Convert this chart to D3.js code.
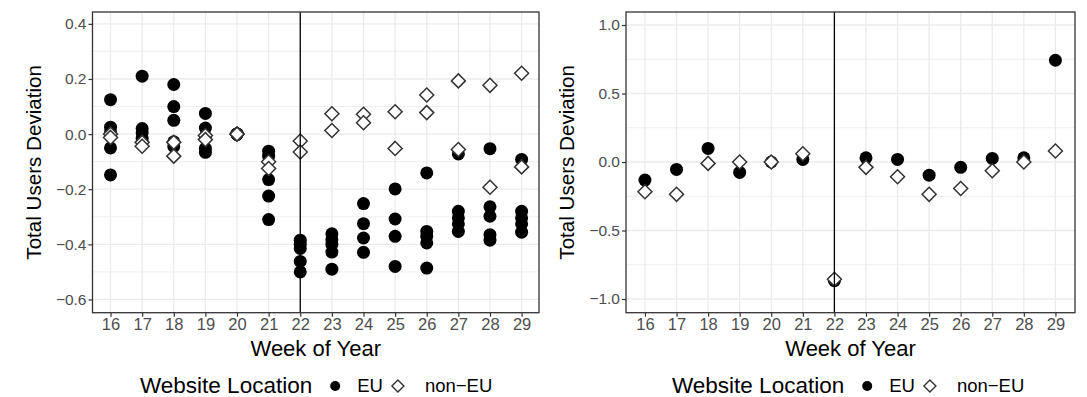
<!DOCTYPE html>
<html>
<head>
<meta charset="utf-8">
<script src="https://cdn.jsdelivr.net/npm/d3@7"></script>
<style>
  body { margin: 0; background: #fff; }
  svg { display: block; }
</style>
</head>
<body>
<div id="chart"></div>
<script>
var weeks = [16, 17, 18, 19, 20, 21, 22, 23, 24, 25, 26, 27, 28, 29];

// left panel: several websites per week
var leftEU = [
  [0.125, 0.025, 0.008, -0.05, -0.148],
  [0.21, 0.02, 0.005, -0.015, -0.03],
  [0.18, 0.1, 0.05, -0.028, -0.045],
  [0.075, 0.022, -0.01, -0.052, -0.066],
  [0, 0, 0, 0, 0],
  [-0.062, -0.08, -0.165, -0.225, -0.31],
  [-0.385, -0.4, -0.415, -0.462, -0.5],
  [-0.362, -0.383, -0.4, -0.428, -0.49],
  [-0.252, -0.325, -0.377, -0.429],
  [-0.199, -0.308, -0.371, -0.48],
  [-0.141, -0.353, -0.371, -0.395, -0.486],
  [-0.072, -0.28, -0.304, -0.326, -0.353],
  [-0.053, -0.264, -0.298, -0.365, -0.385],
  [-0.092, -0.28, -0.304, -0.326, -0.356]
];
var leftNonEU = [
  [0.0, -0.012],
  [-0.03, -0.044],
  [-0.03, -0.08],
  [-0.005, -0.02],
  [0, 0],
  [-0.1, -0.125],
  [-0.025, -0.065],
  [0.074, 0.013],
  [0.072, 0.041],
  [0.081, -0.052],
  [0.142, 0.078],
  [0.193, -0.056],
  [0.177, -0.193],
  [0.221, -0.119]
];

// right panel: one value per week
var rightEU = [-0.132, -0.054, 0.099, -0.076, 0, 0.019, -0.866, 0.031, 0.019, -0.096, -0.039, 0.026, 0.031, 0.743];
var rightNonEU = [-0.217, -0.236, -0.01, 0.0, 0.0, 0.06, -0.856, -0.039, -0.108, -0.236, -0.193, -0.064, 0.0, 0.08];

var leftTicks = [-0.6, -0.4, -0.2, 0.0, 0.2, 0.4];
var rightTicks = [-1.0, -0.5, 0.0, 0.5, 1.0];
var markerWeek = 22;

var width = 1087,
    height = 397;

var gridColor = '#ebebeb',
    borderColor = '#333333',
    tickTextColor = '#4d4d4d';

var fontFamily = '"Liberation Sans", Arial, Helvetica, sans-serif';

var svg = d3.select('#chart')
  .append('svg')
  .attr('width', width)
  .attr('height', height);

function flatten(weekVals) {
  var out = [];
  weekVals.forEach(function(vals, i) {
    [].concat(vals).forEach(function(v) {
      out.push({ week: weeks[i], value: v });
    });
  });
  return out;
}

function diamondPath(r) {
  return 'M0,' + (-r) + 'L' + r + ',0L0,' + r + 'L' + (-r) + ',0Z';
}

function drawPanel(p) {
  var x = d3.scaleLinear().domain(p.xDomain).range([p.left, p.right]);
  var y = d3.scaleLinear().domain(p.yDomain).range([p.bottom, p.top]);

  var g = svg.append('g');

  // minor grid (y midpoints)
  var step = p.yTicks[1] - p.yTicks[0];
  var minor = [];
  for (var i = 0; i < p.yTicks.length + 1; i++) {
    var v = p.yTicks[0] - step / 2 + i * step;
    if (v > p.yDomain[0] && v < p.yDomain[1]) minor.push(v);
  }
  g.selectAll('.minor')
    .data(minor)
    .enter().append('line')
    .attr('x1', p.left).attr('x2', p.right)
    .attr('y1', function(d) { return y(d); })
    .attr('y2', function(d) { return y(d); })
    .style('stroke', gridColor)
    .style('stroke-width', 0.8);

  // major grid
  g.selectAll('.hgrid')
    .data(p.yTicks)
    .enter().append('line')
    .attr('x1', p.left).attr('x2', p.right)
    .attr('y1', function(d) { return y(d); })
    .attr('y2', function(d) { return y(d); })
    .style('stroke', gridColor)
    .style('stroke-width', 1.3);

  g.selectAll('.vgrid')
    .data(weeks)
    .enter().append('line')
    .attr('y1', p.top).attr('y2', p.bottom)
    .attr('x1', function(d) { return x(d); })
    .attr('x2', function(d) { return x(d); })
    .style('stroke', gridColor)
    .style('stroke-width', 1.3);

  // points: EU dots first, then non-EU diamonds on top
  g.selectAll('.eu')
    .data(flatten(p.eu))
    .enter().append('circle')
    .attr('cx', function(d) { return x(d.week); })
    .attr('cy', function(d) { return y(d.value); })
    .attr('r', 6.5)
    .style('fill', '#000');

  g.selectAll('.noneu')
    .data(flatten(p.nonEu))
    .enter().append('path')
    .attr('d', diamondPath(7))
    .attr('transform', function(d) { return 'translate(' + x(d.week) + ',' + y(d.value) + ')'; })
    .style('fill', '#fff')
    .style('stroke', '#333')
    .style('stroke-width', 1.5);

  // vertical marker line
  g.append('line')
    .attr('x1', x(markerWeek)).attr('x2', x(markerWeek))
    .attr('y1', p.top).attr('y2', p.bottom)
    .style('stroke', '#000')
    .style('stroke-width', 1.3);

  // panel border
  g.append('rect')
    .attr('x', p.left).attr('y', p.top)
    .attr('width', p.right - p.left)
    .attr('height', p.bottom - p.top)
    .style('fill', 'none')
    .style('stroke', borderColor)
    .style('stroke-width', 1.3);

  // axes
  var yAxis = g.append('g')
    .attr('transform', 'translate(' + p.left + ',0)')
    .call(d3.axisLeft(y).tickValues(p.yTicks).tickFormat(d3.format('.1f')).tickSize(4).tickPadding(2));
  var xAxis = g.append('g')
    .attr('transform', 'translate(0,' + p.bottom + ')')
    .call(d3.axisBottom(x).tickValues(weeks).tickFormat(d3.format('d')).tickSize(4).tickPadding(2));

  [yAxis, xAxis].forEach(function(a) {
    a.select('.domain').remove();
    a.selectAll('.tick line').style('stroke', borderColor).style('stroke-width', 1.2);
    a.selectAll('.tick text')
      .style('fill', tickTextColor)
      .style('font-family', fontFamily);
  });
  yAxis.selectAll('.tick text').style('font-size', '15.5px').text(function(d) {
    return d3.format('.1f')(d).replace('-', '\u2212');
  });
  xAxis.selectAll('.tick text').style('font-size', '16.5px');

  // axis titles
  g.append('text')
    .text('Total Users Deviation')
    .attr('transform', 'translate(' + p.yTitleX + ',' + ((p.top + p.bottom) / 2) + ') rotate(-90)')
    .attr('text-anchor', 'middle')
    .style('font-family', fontFamily)
    .style('font-size', '20.6px')
    .style('fill', '#000');

  g.append('text')
    .text('Week of Year')
    .attr('x', (p.left + p.right) / 2)
    .attr('y', 356)
    .attr('text-anchor', 'middle')
    .style('font-family', fontFamily)
    .style('font-size', '22px')
    .style('fill', '#000');

  // legend
  var lg = g.append('g');
  var ly = 386;
  var title = lg.append('text')
    .text('Website Location')
    .attr('x', p.legendX)
    .attr('y', 393)
    .style('font-family', fontFamily)
    .style('font-size', '22.5px')
    .style('fill', '#000');
  var tw = title.node().getComputedTextLength();
  var cx = p.legendX + tw + 23;
  lg.append('circle')
    .attr('cx', cx).attr('cy', ly).attr('r', 5)
    .style('fill', '#000');
  var euText = lg.append('text')
    .text('EU')
    .attr('x', cx + 22).attr('y', 392)
    .style('font-family', fontFamily)
    .style('font-size', '18.5px')
    .style('fill', '#000');
  var ew = euText.node().getComputedTextLength();
  var dx = cx + 22 + ew + 15;
  lg.append('path')
    .attr('d', diamondPath(6))
    .attr('transform', 'translate(' + dx + ',' + ly + ')')
    .style('fill', '#fff')
    .style('stroke', '#333')
    .style('stroke-width', 1.4);
  lg.append('text')
    .text('non\u2212EU')
    .attr('x', dx + 27).attr('y', 392)
    .style('font-family', fontFamily)
    .style('font-size', '18.5px')
    .style('fill', '#000');
}

drawPanel({
  left: 92.5, right: 539, top: 12, bottom: 312.7,
  xDomain: [15.43, 29.55],
  yDomain: [-0.648, 0.443],
  yTicks: leftTicks,
  eu: leftEU, nonEu: leftNonEU,
  yTitleX: 41,
  legendX: 140
});

drawPanel({
  left: 626, right: 1075, top: 12, bottom: 312.7,
  xDomain: [15.4, 29.62],
  yDomain: [-1.1, 1.095],
  yTicks: rightTicks,
  eu: rightEU.map(function(v) { return [v]; }), nonEu: rightNonEU.map(function(v) { return [v]; }),
  yTitleX: 574,
  legendX: 672
});
</script>
</body>
</html>
